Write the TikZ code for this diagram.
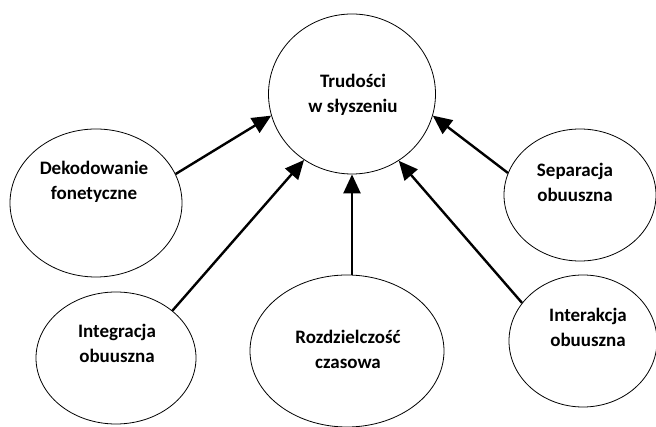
\documentclass[tikz,border=0pt]{standalone}
\usepackage{fontspec}
\setmainfont{Carlito}
\usetikzlibrary{shapes.geometric,arrows.meta}
\tikzset{
  oval/.style={ellipse, draw=black, line width=0.8pt, inner sep=0pt},
  lbl/.style={align=center, font=\fontsize{19}{25}\selectfont\bfseries, inner sep=0pt},
  conn/.style={line width=2.4pt, -{Triangle[length=19pt,width=17pt]}}
}
\begin{document}
\begin{tikzpicture}[x=1pt,y=-1pt]
\useasboundingbox (0,0) rectangle (656,427);
\node[oval, minimum width=167pt, minimum height=160pt] (T) at (352,94) {};
\node[oval, minimum width=172pt, minimum height=148pt] (D) at (96,203) {};
\node[oval, minimum width=160pt, minimum height=132pt] (I) at (116,358) {};
\node[oval, minimum width=194pt, minimum height=152pt] (R) at (347,351) {};
\node[oval, minimum width=152pt, minimum height=132pt] (S) at (580,195) {};
\node[oval, minimum width=148pt, minimum height=132pt] (N) at (583,341) {};
\node[lbl] (Tt) at (353,95) {Trudości\\w słyszeniu};
\node[lbl] (Dt) at (94,182) {Dekodowanie\\fonetyczne};
\node[lbl] (It) at (117,343) {Integracja\\obuuszna};
\node[lbl] (Rt) at (348,349) {Rozdzielczość\\czasowa};
\node[lbl] (St) at (575,182) {Separacja\\obuuszna};
\node[lbl] (Nt) at (588,327) {Interakcja\\obuuszna};
\draw[conn] (D.20) -- (T.195);
\draw[conn] (I.40) -- (T.234);
\draw[conn] (R.north -| T.south) -- (T.south);
\draw[conn] (S.163) -- (T.345);
\draw[conn] (N.148) -- (T.305);
\end{tikzpicture}
\end{document}
